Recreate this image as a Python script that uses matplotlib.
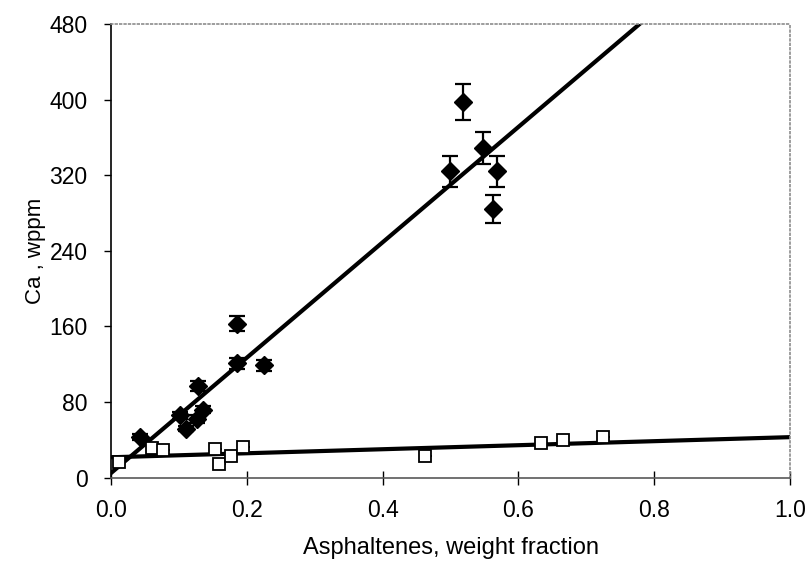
import numpy as np
import matplotlib.pyplot as plt

plt.rcParams['font.family'] = ['Liberation Sans', 'DejaVu Sans']

# calcium in asphaltenes (filled) and in the maltene side (open)
asph_x = [0.043, 0.102, 0.110, 0.126, 0.135, 0.128, 0.185, 0.185, 0.225,
          0.518, 0.548, 0.499, 0.568, 0.563]
asph_ca = [43, 66, 52, 62, 72, 97, 163, 121, 119,
           397, 349, 324, 324, 284]
asph_err = [3, 4, 3, 4, 4, 5, 8, 6, 6, 19, 17, 16, 16, 15]

malt_x = [0.011, 0.060, 0.077, 0.153, 0.159, 0.176, 0.195,
          0.463, 0.633, 0.665, 0.725]
malt_ca = [17, 31, 29, 30, 14, 23, 33, 23, 37, 40, 43]
malt_xerr = [0.01] * len(malt_x)

# linear fits
fit_steep = (5, 610)
fit_flat = (21.6, 21.3)

fig = plt.figure(figsize=(8.11, 5.63), dpi=100)
ax = fig.add_axes([0.137, 0.1515, 0.837, 0.806])

xs = np.array([0.0, 1.0])
ax.plot(xs, fit_steep[0] + fit_steep[1] * xs, color='black', lw=3, zorder=2)
ax.plot(xs, fit_flat[0] + fit_flat[1] * xs, color='black', lw=3, zorder=2)

ax.errorbar(asph_x, asph_ca, yerr=asph_err, fmt='D', color='black',
            ms=9, capsize=6, elinewidth=1.6, capthick=1.6, zorder=3)
ax.errorbar(malt_x, malt_ca, xerr=[[0] * len(malt_x), malt_xerr], fmt='s',
            mfc='white', mec='black', mew=1.3, ms=9, ecolor='black',
            elinewidth=1.3, capsize=0, zorder=3)

ax.set_xlim(0, 1.0)
ax.set_ylim(0, 480)
ax.set_xticks(np.arange(0, 1.01, 0.2))
ax.set_xticklabels(['0.0', '0.2', '0.4', '0.6', '0.8', '1.0'])
ax.set_yticks(np.arange(0, 481, 80))

ax.set_xlabel('Asphaltenes, weight fraction', fontsize=17, labelpad=11)
ax.set_ylabel('Ca , wppm', fontsize=16, labelpad=2)

ax.tick_params(axis='y', direction='out', length=5, width=1, labelsize=16.5, pad=12)
ax.tick_params(axis='x', direction='inout', length=10, width=1, labelsize=16.5, pad=10)

ax.spines['left'].set_color('black')
ax.spines['left'].set_linewidth(1.2)
ax.spines['bottom'].set_color('0.35')
ax.spines['bottom'].set_linewidth(1.2)
for s in ['top', 'right']:
    ax.spines[s].set_color('0.55')
    ax.spines[s].set_linestyle(':')
    ax.spines[s].set_linewidth(1.2)

fig.savefig('out.png', dpi=100)
